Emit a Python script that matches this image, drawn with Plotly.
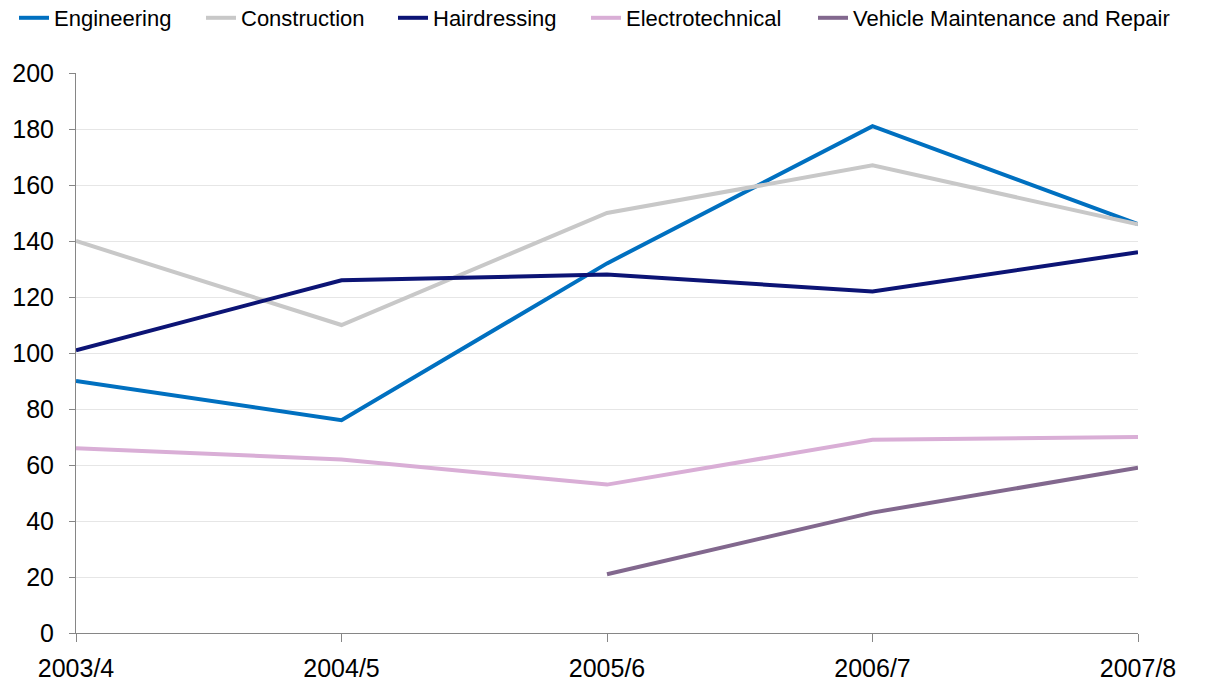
import plotly.graph_objects as go

years = ["2003/4", "2004/5", "2005/6", "2006/7", "2007/8"]
engineering = [90, 76, 132, 181, 146]
construction = [140, 110, 150, 167, 146]
hairdressing = [101, 126, 128, 122, 136]
electrotechnical = [66, 62, 53, 69, 70]
vehicle = [None, None, 21, 43, 59]

series = [
    ("Engineering", engineering, "#0070C0"),
    ("Construction", construction, "#C8C8C8"),
    ("Hairdressing", hairdressing, "#0C1475"),
    ("Electrotechnical", electrotechnical, "#D9AED6"),
    ("Vehicle Maintenance and Repair", vehicle, "#82688E"),
]

# legend entry left positions (px, container coords)
legend_x_px = [6, 193, 385, 578, 805]

W, H = 1206, 686
fig = go.Figure()
layout_legends = {}
for i, (name, vals, col) in enumerate(series):
    key = "legend" if i == 0 else f"legend{i + 1}"
    fig.add_trace(go.Scatter(x=years, y=vals, name=name, mode="lines",
                             legend=key, showlegend=True,
                             line=dict(color=col, width=4)))
    layout_legends[key] = dict(orientation="h", xref="container", yref="container",
                               x=legend_x_px[i] / W, y=1 - 10 / H,
                               xanchor="left", yanchor="middle",
                               font=dict(size=22), bgcolor="rgba(0,0,0,0)")

fig.update_layout(
    width=W, height=H, showlegend=True,
    margin=dict(l=68, r=76, t=65, b=61, autoexpand=False),
    paper_bgcolor="white", plot_bgcolor="white",
    font=dict(family="Liberation Sans, Arial, sans-serif", size=25, color="#000000"),
    xaxis=dict(type="category", range=[0, 4], showgrid=False, showline=True,
               linecolor="#868686", linewidth=1, ticks="outside", ticklen=8,
               tickcolor="#868686", ticklabelstandoff=5, zeroline=False),
    yaxis=dict(range=[0, 200], dtick=20, showgrid=True, gridcolor="#E6E6E6",
               showline=True, linecolor="#868686", linewidth=1, ticks="outside",
               ticklen=6, tickcolor="#868686", ticklabelstandoff=10, zeroline=False),
    **layout_legends,
)

fig.write_html("out.html")
